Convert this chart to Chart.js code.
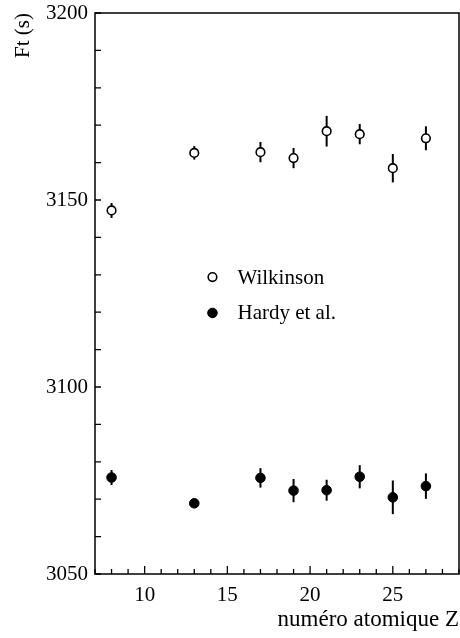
<!DOCTYPE html>
<html>
<head>
<meta charset="utf-8">
<script src="https://cdn.jsdelivr.net/npm/chart.js@4.4.1/dist/chart.umd.min.js"></script>
<style>
  html, body { margin: 0; padding: 0; background: #fff; }
  #wrap { width: 460px; height: 638px; position: relative; }
</style>
</head>
<body>
<div id="wrap"><canvas id="c" width="460" height="638"></canvas></div>
<script>
// Atomic number Z of each measured superallowed emitter
const zValues = [8, 13, 17, 19, 21, 23, 25, 27];

// Ft values (s) and their uncertainties
const wilkinsonFt  = [3147.2, 3162.6, 3162.8, 3161.2, 3168.4, 3167.6, 3158.5, 3166.5];
const wilkinsonErr = [2.0, 1.8, 2.7, 2.7, 4.1, 2.7, 3.8, 3.2];
const hardyFt      = [3075.8, 3068.9, 3075.7, 3072.3, 3072.4, 3076.0, 3070.5, 3073.5];
const hardyErr     = [2.0, 0.8, 2.6, 3.1, 2.8, 3.1, 4.5, 3.4];

// Axis ranges and labelled ticks
const xRange = [7, 29];
const yRange = [3050, 3200];
const xLabelTicks = [10, 15, 20, 25];
const yLabelTicks = [3050, 3100, 3150, 3200];

const seriesNames = ['Wilkinson', 'Hardy et al.'];

const SERIF = '"Liberation Serif", "DejaVu Serif", serif';

function toPoints(xs, ys, errs) {
  return xs.map((x, i) => ({ x: x, y: ys[i], err: errs[i] }));
}

// Let the layout padding alone decide where the plot area sits
function clearScalePadding(s) {
  s.paddingTop = 0;
  s.paddingBottom = 0;
  s.paddingLeft = 0;
  s.paddingRight = 0;
}

// Vertical error bars drawn through the scales
const errorBars = {
  id: 'errorBars',
  beforeDatasetsDraw(chart) {
    const { ctx, scales: { x, y } } = chart;
    ctx.save();
    ctx.strokeStyle = '#000';
    ctx.lineWidth = 2;
    chart.data.datasets.forEach(ds => {
      ds.data.forEach(p => {
        const px = x.getPixelForValue(p.x);
        ctx.beginPath();
        ctx.moveTo(px, y.getPixelForValue(p.y - p.err));
        ctx.lineTo(px, y.getPixelForValue(p.y + p.err));
        ctx.stroke();
      });
    });
    ctx.restore();
  }
};

// Frame with inward tick marks
const frame = {
  id: 'frame',
  afterDatasetsDraw(chart) {
    const { ctx, chartArea: a, scales: { x, y } } = chart;
    ctx.save();
    ctx.strokeStyle = '#000';
    ctx.lineWidth = 1.5;
    ctx.strokeRect(a.left, a.top, a.right - a.left, a.bottom - a.top);
    ctx.lineWidth = 1.3;
    ctx.beginPath();
    x.ticks.forEach(t => {
      const px = x.getPixelForValue(t.value);
      const len = xLabelTicks.includes(t.value) ? 8 : 5;
      ctx.moveTo(px, a.bottom);
      ctx.lineTo(px, a.bottom - len);
    });
    y.ticks.forEach(t => {
      const py = y.getPixelForValue(t.value);
      ctx.moveTo(a.left, py);
      ctx.lineTo(a.left + 6, py);
    });
    ctx.stroke();
    ctx.restore();
  }
};

// Legend placed inside the plot
const insideLegend = {
  id: 'insideLegend',
  afterDraw(chart) {
    const { ctx, scales: { x, y } } = chart;
    const mx = x.getPixelForValue(14.1);
    const rows = [y.getPixelForValue(3129.4), y.getPixelForValue(3119.8)];
    ctx.save();
    ctx.font = '21px ' + SERIF;
    ctx.fillStyle = '#000';
    ctx.textBaseline = 'middle';
    chart.data.datasets.forEach((ds, i) => {
      const py = rows[i];
      ctx.beginPath();
      ctx.arc(mx, py, ds.pointRadius, 0, Math.PI * 2);
      ctx.fillStyle = ds.pointBackgroundColor;
      ctx.fill();
      ctx.lineWidth = ds.pointBorderWidth;
      ctx.strokeStyle = '#000';
      ctx.stroke();
      ctx.fillStyle = '#000';
      ctx.fillText(ds.label, mx + 25, py + 1);
    });
    ctx.restore();
  }
};

new Chart(document.getElementById('c'), {
  type: 'scatter',
  data: {
    datasets: [
      {
        label: seriesNames[0],
        data: toPoints(zValues, wilkinsonFt, wilkinsonErr),
        pointStyle: 'circle',
        pointRadius: 4.3,
        pointBorderWidth: 1.6,
        pointBackgroundColor: '#fff',
        pointBorderColor: '#000'
      },
      {
        label: seriesNames[1],
        data: toPoints(zValues, hardyFt, hardyErr),
        pointStyle: 'circle',
        pointRadius: 4.8,
        pointBorderWidth: 1,
        pointBackgroundColor: '#000',
        pointBorderColor: '#000'
      }
    ]
  },
  options: {
    responsive: false,
    animation: false,
    events: [],
    layout: { autoPadding: false, padding: { top: 13, right: 1, left: 0, bottom: 0 } },
    plugins: { legend: { display: false }, tooltip: { enabled: false } },
    scales: {
      x: {
        type: 'linear',
        min: xRange[0],
        max: xRange[1],
        grid: { display: false, drawTicks: false },
        border: { display: false },
        ticks: {
          stepSize: 1,
          autoSkip: false,
          maxRotation: 0,
          padding: 9,
          color: '#000',
          font: { family: SERIF, size: 21 },
          callback: v => xLabelTicks.includes(v) ? String(v) : ''
        },
        title: {
          display: true,
          text: 'numéro atomique Z',
          align: 'end',
          color: '#000',
          font: { family: SERIF, size: 23 },
          padding: { top: 0, bottom: 4 }
        },
        afterFit: s => { s.height = 64; clearScalePadding(s); }
      },
      y: {
        type: 'linear',
        min: yRange[0],
        max: yRange[1],
        grid: { display: false, drawTicks: false },
        border: { display: false },
        ticks: {
          stepSize: 10,
          autoSkip: false,
          padding: 7,
          color: '#000',
          font: { family: SERIF, size: 21 },
          callback: v => yLabelTicks.includes(v) ? String(v) : ''
        },
        title: {
          display: true,
          text: 'Ft (s)',
          align: 'end',
          color: '#000',
          font: { family: SERIF, size: 21 },
          padding: { top: 11, bottom: 0 }
        },
        afterFit: s => { s.width = 95; clearScalePadding(s); }
      }
    }
  },
  plugins: [errorBars, frame, insideLegend]
});
</script>
</body>
</html>
